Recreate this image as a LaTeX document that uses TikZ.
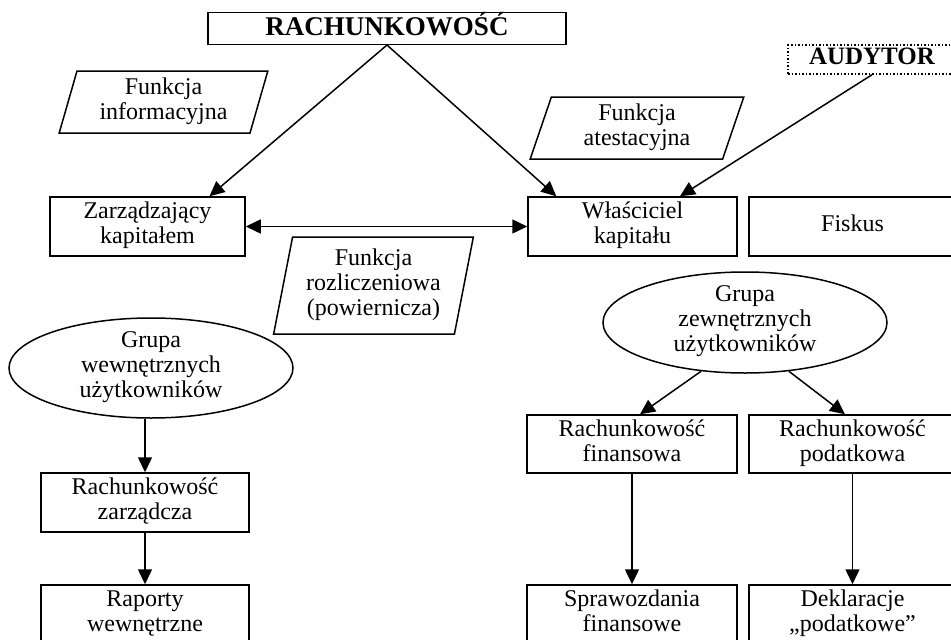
\documentclass[tikz,border=0pt]{standalone}
\usepackage{fontspec}
\setmainfont{Liberation Serif}
\usetikzlibrary{arrows.meta,shapes.geometric}

\tikzset{
  even/.style={execute at begin node={\strut}, execute at end node={\strut}},
  box/.style={draw, line width=1.5pt, rectangle, inner sep=0pt, align=center, even},
  slanted/.style={draw, line width=1.5pt, trapezium, trapezium stretches=true,
    trapezium left angle=75, trapezium right angle=105, inner sep=0pt, align=center, even},
  oval/.style={draw, line width=1.5pt, ellipse, inner sep=0pt},
  label/.style={inner sep=0pt, align=center, even},
  link/.style={line width=1.5pt, -{Triangle[length=15pt,width=14pt]}},
  biglink/.style={line width=1.5pt, {Triangle[length=15pt,width=14pt]}-{Triangle[length=15pt,width=14pt]}},
}

\begin{document}
\begin{tikzpicture}[x=1pt, y=-1pt, font=\fontsize{24}{25}\selectfont]
\useasboundingbox (0,0) rectangle (951,640);
\clip (0,0) rectangle (951,640);

% headers
\node[box, minimum width=358pt, minimum height=31pt, font=\fontsize{27}{28}\selectfont\bfseries, execute at begin node={}, execute at end node={}]
  (rach) at (387,28.5) {RACHUNKOWOŚĆ};
\node[box, dotted, minimum width=168pt, minimum height=29pt, font=\fontsize{25}{26}\selectfont\bfseries, execute at begin node={}, execute at end node={}]
  (aud) at (872,59.5) {AUDYTOR};

% functions
\node[slanted, minimum width=209pt, minimum height=62pt] (finfo) at (163.5,102) {Funkcja\\informacyjna};
\node[slanted, minimum width=214pt, minimum height=62pt] (fates) at (637,128) {Funkcja\\atestacyjna};
\node[slanted, trapezium left angle=78, trapezium right angle=102,
  minimum width=200pt, minimum height=97pt] (froz) at (373.5,285.5) {Funkcja\\rozliczeniowa\\(powiernicza)};

% parties
\node[box, minimum width=195pt, minimum height=59pt] (zarz) at (147.5,226.5) {Zarządzający\\kapitałem};
\node[box, minimum width=209pt, minimum height=59pt] (wlas) at (632.5,226.5) {Właściciel\\kapitału};
\node[box, minimum width=207pt, minimum height=59pt] (fisk) at (852.5,226.5) {Fiskus};

% user groups
\node[oval, minimum width=284pt, minimum height=100pt] (gw) at (151,368) {};
\node[label] (gwt) at (gw) {Grupa\\wewnętrznych\\użytkowników};
\node[oval, minimum width=284pt, minimum height=101pt] (gz) at (745,322.5) {};
\node[label] (gzt) at (gz) {Grupa\\zewnętrznych\\użytkowników};

% accounting branches
\node[box, minimum width=208pt, minimum height=59pt] (rz) at (145,502.5) {Rachunkowość\\zarządcza};
\node[box, minimum width=210pt, minimum height=58pt] (rf) at (632,444) {Rachunkowość\\finansowa};
\node[box, minimum width=207pt, minimum height=58pt] (rp) at (852.5,444) {Rachunkowość\\podatkowa};

% reports
\node[box, minimum width=208pt, minimum height=59pt] (rw) at (145,614.5) {Raporty\\wewnętrzne};
\node[box, minimum width=210pt, minimum height=59pt] (sf) at (632,614.5) {Sprawozdania\\finansowe};
\node[box, minimum width=207pt, minimum height=59pt] (dp) at (852.5,614.5) {Deklaracje\\„podatkowe”};

% connectors
\draw[link] (rach.south) -- ([xshift=62pt]zarz.north);
\draw[link] (rach.south) -- ([xshift=29pt]wlas.north west);
\draw[link] (aud.south) -- ([xshift=47.5pt]wlas.north);
\draw[biglink] (zarz.east) -- (wlas.west);
\draw[link] (gw.south -| rz.north) -- (rz.north);
\draw[link] (rz.south) -- (rw.north);
\draw[link] (gz.228) -- ([xshift=8pt]rf.north);
\draw[link] (gz.312) -- ([xshift=-7.5pt]rp.north);
\draw[link] (rf.south) -- (sf.north);
\draw[link] (rp.south) -- (dp.north);
\end{tikzpicture}
\end{document}
